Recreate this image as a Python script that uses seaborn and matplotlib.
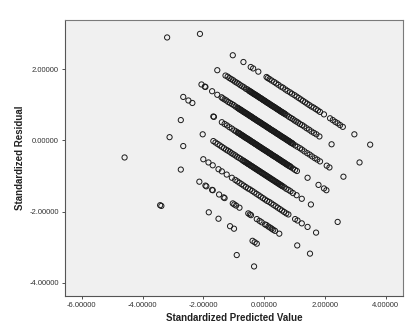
import matplotlib
matplotlib.use("Agg")
import matplotlib.pyplot as plt
import seaborn as sns
import pandas as pd

# ---- data (standardized predicted, standardized residual) ----
band_a_x = [-2.11, -1.03, -0.68, -0.44, -0.36, -0.19, 0.08, 0.12, 0.18, 0.25, 0.33, 0.40, 0.47, 0.55,
            0.62, 0.70, 0.77, 0.85, 0.92, 1.00, 1.07, 1.14, 1.21, 1.28, 1.35, 1.42, 1.49, 1.56, 1.63,
            1.70, 1.77, 1.84, 1.97, 2.17, 2.26, 2.34, 2.42, 2.50, 2.59, 2.97, 3.49]
band_a_y = [2.99, 2.39, 2.20, 2.06, 2.02, 1.93, 1.78, 1.75, 1.72, 1.68, 1.64, 1.60, 1.56, 1.51,
            1.48, 1.43, 1.39, 1.35, 1.31, 1.27, 1.23, 1.19, 1.15, 1.11, 1.07, 1.03, 0.99, 0.95, 0.92,
            0.88, 0.84, 0.80, 0.73, 0.62, 0.57, 0.52, 0.48, 0.43, 0.38, 0.17, -0.12]

band_b_x = [-3.19, -1.54, -1.27, -1.20, -1.14, -1.08, -1.02, -0.96, -0.90, -0.84, -0.78, -0.72, -0.66,
            -0.60, -0.55, -0.50, -0.45, -0.40, -0.35, -0.30, -0.25, -0.20, -0.15, -0.10, -0.05, 0.00,
            0.05, 0.10, 0.15, 0.20, 0.25, 0.30, 0.35, 0.40, 0.45, 0.50, 0.55, 0.60, 0.65, 0.70, 0.76,
            0.82, 0.88, 0.94, 1.00, 1.06, 1.12, 1.18, 1.25, 1.32, 1.40, 1.48, 1.56, 1.64, 1.72, 1.82,
            2.22, 3.14]
band_b_y = [2.89, 1.97, 1.82, 1.79, 1.75, 1.72, 1.69, 1.65, 1.62, 1.59, 1.55, 1.52, 1.49,
            1.45, 1.43, 1.40, 1.37, 1.34, 1.31, 1.29, 1.26, 1.23, 1.20, 1.18, 1.15, 1.12,
            1.09, 1.06, 1.04, 1.01, 0.98, 0.95, 0.93, 0.90, 0.87, 0.84, 0.81, 0.79, 0.76, 0.73, 0.70,
            0.66, 0.63, 0.60, 0.56, 0.53, 0.50, 0.46, 0.43, 0.39, 0.34, 0.30, 0.25, 0.21, 0.17, 0.11,
            -0.11, -0.62]
band_b2_x = [-0.475, -0.425, -0.375, -0.325, -0.275, -0.225, -0.175, -0.125, -0.075, -0.025, 0.025,
             0.075, 0.125, 0.175, 0.225, 0.275, 0.325, 0.375, 0.425, 0.475, 0.525, 0.575, 0.625, 0.675]
band_b2_y = [1.38, 1.36, 1.33, 1.30, 1.27, 1.25, 1.22, 1.19, 1.16, 1.13, 1.11,
             1.08, 1.05, 1.02, 0.99, 0.97, 0.94, 0.91, 0.88, 0.86, 0.83, 0.80, 0.77, 0.75]

band_c_x = [-2.06, -1.95, -1.93, -1.71, -1.54, -1.40, -1.36, -1.30, -1.24, -1.18, -1.12, -1.06, -1.00,
            -0.94, -0.88, -0.85, -0.80, -0.75, -0.70, -0.65, -0.60, -0.55, -0.50, -0.45, -0.40, -0.35,
            -0.30, -0.25, -0.20, -0.15, -0.10, -0.05, 0.00, 0.05, 0.10, 0.15, 0.20, 0.25, 0.30, 0.35,
            0.40, 0.45, 0.50, 0.55, 0.60, 0.65, 0.70, 0.75, 0.80, 0.85, 0.90, 0.95, 1.02, 1.10, 1.18,
            1.25, 1.33, 1.42, 1.50, 1.58, 1.67, 1.75, 1.84, 2.06, 2.15, 2.61]
band_c_y = [1.57, 1.51, 1.50, 1.38, 1.28, 1.21, 1.18, 1.15, 1.12, 1.08, 1.05, 1.02, 0.99,
            0.95, 0.92, 0.90, 0.87, 0.85, 0.82, 0.79, 0.76, 0.74, 0.71, 0.68, 0.65, 0.62,
            0.60, 0.57, 0.54, 0.51, 0.49, 0.46, 0.43, 0.40, 0.37, 0.35, 0.32, 0.29, 0.26, 0.24,
            0.21, 0.18, 0.15, 0.12, 0.10, 0.07, 0.04, 0.01, -0.01, -0.04, -0.07, -0.10, -0.14, -0.18, -0.22,
            -0.26, -0.31, -0.36, -0.40, -0.45, -0.50, -0.54, -0.59, -0.71, -0.76, -1.02]
band_c2_x = [-0.825, -0.775, -0.725, -0.675, -0.625, -0.575, -0.525, -0.475, -0.425, -0.375, -0.325,
             -0.275, -0.225, -0.175, -0.125, -0.075, -0.025, 0.025, 0.075, 0.125, 0.175, 0.225, 0.275,
             0.325, 0.375, 0.425, 0.475, 0.525, 0.575, 0.625, 0.675, 0.725, 0.775, 0.825, 0.875, 0.925]
band_c2_y = [0.89, 0.86, 0.83, 0.80, 0.78, 0.75, 0.72, 0.69, 0.67, 0.64, 0.61,
             0.58, 0.55, 0.53, 0.50, 0.47, 0.44, 0.42, 0.39, 0.36, 0.33, 0.30, 0.28,
             0.25, 0.22, 0.19, 0.17, 0.14, 0.11, 0.08, 0.06, 0.03, 0.00, -0.03, -0.06, -0.08]

band_d_x = [-2.66, -2.49, -2.36, -1.67, -1.65, -1.39, -1.30, -1.22, -1.14, -1.06, -0.98, -0.92, -0.87,
            -0.82, -0.77, -0.72, -0.67, -0.62, -0.57, -0.52, -0.47, -0.42, -0.37, -0.32, -0.27, -0.22,
            -0.17, -0.12, -0.07, -0.02, 0.03, 0.08, 0.13, 0.18, 0.23, 0.28, 0.33, 0.38, 0.43, 0.48,
            0.53, 0.58, 0.63, 0.68, 0.73, 0.78, 0.83, 0.88, 0.95, 1.02, 1.08, 1.43, 1.79, 1.97, 2.05]
band_d_y = [1.22, 1.12, 1.05, 0.67, 0.66, 0.51, 0.46, 0.42, 0.37, 0.33, 0.28, 0.25, 0.22,
            0.20, 0.17, 0.14, 0.11, 0.08, 0.06, 0.03, 0.00, -0.03, -0.05, -0.08, -0.11, -0.14,
            -0.17, -0.19, -0.22, -0.25, -0.28, -0.30, -0.33, -0.36, -0.39, -0.42, -0.44, -0.47, -0.50, -0.53,
            -0.55, -0.58, -0.61, -0.64, -0.67, -0.69, -0.72, -0.75, -0.79, -0.83, -0.86, -1.05, -1.25, -1.35, -1.40]
band_d2_x = [-0.845, -0.795, -0.745, -0.695, -0.645, -0.595, -0.545, -0.495, -0.445, -0.395, -0.345,
             -0.295, -0.245, -0.195, -0.145, -0.095, -0.045, 0.005, 0.055, 0.105, 0.155, 0.205, 0.255,
             0.305, 0.355, 0.405, 0.455, 0.505, 0.555, 0.605, 0.655, 0.705, 0.755, 0.805, 0.855]
band_d2_y = [0.21, 0.18, 0.15, 0.13, 0.10, 0.07, 0.04, 0.02, -0.01, -0.04, -0.07,
             -0.10, -0.12, -0.15, -0.18, -0.21, -0.24, -0.26, -0.29, -0.32, -0.35, -0.37, -0.40,
             -0.43, -0.46, -0.48, -0.51, -0.54, -0.57, -0.60, -0.62, -0.65, -0.68, -0.71, -0.73]

band_e_x = [-2.74, -2.02, -1.67, -1.60, -1.53, -1.46, -1.39, -1.32, -1.25, -1.19, -1.13, -1.07, -1.01,
            -0.95, -0.89, -0.83, -0.77, -0.71, -0.65, -0.59, -0.53, -0.47, -0.41, -0.35, -0.29, -0.23,
            -0.17, -0.11, -0.05, 0.01, 0.07, 0.13, 0.19, 0.25, 0.31, 0.37, 0.43, 0.49, 0.55, 0.61,
            0.67, 0.73, 0.80, 0.87, 0.95, 1.07, 1.24, 1.54, 2.42]
band_e_y = [0.57, 0.17, -0.02, -0.06, -0.10, -0.14, -0.18, -0.22, -0.26, -0.29, -0.32, -0.36, -0.39,
            -0.42, -0.46, -0.49, -0.52, -0.56, -0.59, -0.62, -0.66, -0.69, -0.72, -0.76, -0.79, -0.82,
            -0.86, -0.89, -0.92, -0.96, -0.99, -1.02, -1.06, -1.09, -1.12, -1.16, -1.19, -1.22, -1.26, -1.29,
            -1.32, -1.36, -1.39, -1.43, -1.48, -1.54, -1.64, -1.80, -2.29]
band_e2_x = [-0.68, -0.62, -0.56, -0.50, -0.44, -0.38, -0.32, -0.26, -0.20, -0.14, -0.08, -0.02,
             0.04, 0.10, 0.16, 0.22, 0.28, 0.34, 0.40, 0.46, 0.52, 0.58]
band_e2_y = [-0.57, -0.61, -0.64, -0.67, -0.71, -0.74, -0.77, -0.81, -0.84, -0.87, -0.91, -0.94,
             -0.97, -1.01, -1.04, -1.07, -1.11, -1.14, -1.17, -1.21, -1.24, -1.27]

band_f_x = [-3.11, -2.66, -2.00, -1.83, -1.69, -1.50, -1.39, -1.23, -1.06, -0.95, -0.88, -0.81, -0.74,
            -0.67, -0.60, -0.53, -0.46, -0.39, -0.32, -0.25, -0.18, -0.11, -0.04, 0.03, 0.10, 0.17,
            0.24, 0.31, 0.38, 0.45, 0.52, 0.59, 0.66, 0.73, 0.80, 1.02, 1.10, 1.24, 1.43, 1.71]
band_f_y = [0.09, -0.16, -0.53, -0.62, -0.70, -0.81, -0.87, -0.96, -1.05, -1.11, -1.15, -1.19, -1.23,
            -1.27, -1.31, -1.35, -1.38, -1.42, -1.46, -1.50, -1.54, -1.58, -1.62, -1.66, -1.70, -1.73,
            -1.77, -1.81, -1.85, -1.89, -1.93, -1.97, -2.01, -2.05, -2.08, -2.21, -2.25, -2.33, -2.43, -2.59]

band_g_x = [-2.74, -2.13, -1.93, -1.90, -1.71, -1.69, -1.48, -1.33, -1.30, -1.03, -0.98, -0.92, -0.81,
            -0.52, -0.47, -0.43, -0.24, -0.15, -0.08, 0.03, 0.08, 0.14, 0.20, 0.25, 0.30, 0.36, 0.50,
            1.09, 1.51]
band_g_y = [-0.82, -1.16, -1.27, -1.29, -1.39, -1.40, -1.52, -1.60, -1.62, -1.77, -1.80, -1.83, -1.89,
            -2.05, -2.08, -2.10, -2.21, -2.26, -2.30, -2.36, -2.38, -2.42, -2.45, -2.48, -2.51, -2.54, -2.62,
            -2.95, -3.18]

band_h_x = [-4.59, -1.82, -1.50, -1.12, -0.99, -0.38, -0.31, -0.24]
band_h_y = [-0.48, -2.02, -2.20, -2.41, -2.48, -2.82, -2.86, -2.90]

band_i_x = [-3.42, -3.38, -0.90, -0.33]
band_i_y = [-1.82, -1.84, -3.22, -3.54]

x_ticks = [-6, -4, -2, 0, 2, 4]
y_ticks = [-4, -2, 0, 2]
x_label = "Standardized Predicted Value"
y_label = "Standardized Residual"

all_x = (band_a_x + band_b_x + band_b2_x + band_c_x + band_c2_x + band_d_x + band_d2_x
         + band_e_x + band_e2_x + band_f_x + band_g_x + band_h_x + band_i_x)
all_y = (band_a_y + band_b_y + band_b2_y + band_c_y + band_c2_y + band_d_y + band_d2_y
         + band_e_y + band_e2_y + band_f_y + band_g_y + band_h_y + band_i_y)
df = pd.DataFrame({"pred": all_x, "resid": all_y})

sns.set_theme(style="white")
plt.rcParams["font.family"] = ["Liberation Sans", "DejaVu Sans"]

fig = plt.figure(figsize=(4.18, 3.35), dpi=100)
ax = fig.add_axes([65 / 418, 1 - 296 / 335, (403 - 65) / 418, (296 - 20) / 335])
ax.set_facecolor("#f0f0f0")

sns.scatterplot(data=df, x="pred", y="resid", ax=ax, marker="o", s=14,
                facecolor="none", edgecolor="#1a1a1a", linewidth=0.7, legend=False)

ax.set_xlim(-6.55, 4.57)
ax.set_ylim(-4.37, 3.38)
ax.set_xticks(x_ticks)
ax.set_yticks(y_ticks)
ax.set_xticklabels([f"{v:.5f}" for v in x_ticks])
ax.set_yticklabels([f"{v:.5f}" for v in y_ticks])
ax.tick_params(axis="both", which="both", direction="out", length=2.5, width=0.6,
               labelsize=5.5, colors="#333333", pad=2, bottom=True, left=True)

for side in ["top", "right"]:
    ax.spines[side].set_color("#7a7a7a")
    ax.spines[side].set_linewidth(0.8)
for side in ["left", "bottom"]:
    ax.spines[side].set_color("#555555")
    ax.spines[side].set_linewidth(0.8)

ax.set_xlabel(x_label, fontsize=7, fontweight="bold", color="#222222", labelpad=3)
ax.set_ylabel(y_label, fontsize=7, fontweight="bold", color="#222222", labelpad=3)

fig.savefig("out.png", dpi=100, facecolor="white")
